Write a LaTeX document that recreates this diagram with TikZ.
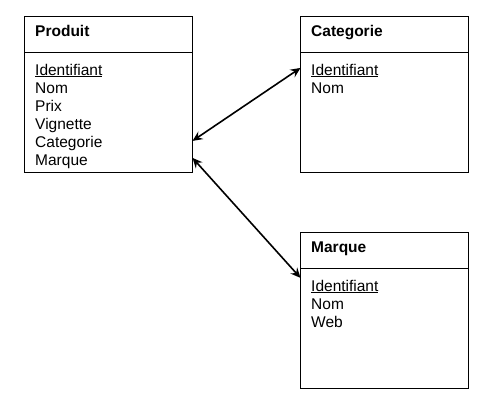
\documentclass[tikz,border=0pt]{standalone}
\usepackage{fontspec}
\setmainfont{Liberation Sans}
\usetikzlibrary{positioning,arrows.meta}

\begin{document}
\begin{tikzpicture}[x=1pt, y=1pt, node distance=60pt and 108pt, every node/.style={font=\fontsize{15.5}{18}\selectfont}]
\tikzstyle{table}=[draw, line width=0.9pt, minimum width=168pt, minimum height=156pt, inner sep=0pt, outer sep=0pt]
\tikzstyle{title}=[anchor=base west, inner sep=0pt, font=\fontsize{15.5}{18}\selectfont\bfseries]
\tikzstyle{attrs}=[anchor=north west, align=left, inner sep=0pt]
\tikzstyle{link}=[{Stealth[length=10pt,width=9pt,inset=3.5pt]}-{Stealth[length=10pt,width=9pt,inset=3.5pt]}, line width=1.6pt]
\useasboundingbox (0,0) rectangle (486,-408);
% tables
\node[table] (prod) at (108.5,-94.4) {};
\node[table, right=of prod] (cat) {};
\node[table, below=of cat] (marq) {};
% headers
\foreach \t/\n in {prod/Produit, cat/Categorie, marq/Marque} {
  \draw[line width=0.9pt] ([yshift=-36pt]\t.north west) -- ([yshift=-36pt]\t.north east);
  \node[title] (\t-title) at ([xshift=10.5pt,yshift=-20pt]\t.north west) {\n};
}
% attributes
\node[attrs] (prod-attrs) at ([xshift=10.5pt,yshift=-46.5pt]prod.north west)
  {\rule{0pt}{12pt}\underline{Identifiant}\\Nom\\Prix\\Vignette\\Categorie\\Marque};
\node[attrs] (cat-attrs) at ([xshift=10.5pt,yshift=-46.5pt]cat.north west)
  {\rule{0pt}{12pt}\underline{Identifiant}\\Nom};
\node[attrs] (marq-attrs) at ([xshift=10.5pt,yshift=-46.5pt]marq.north west)
  {\rule{0pt}{12pt}\underline{Identifiant}\\Nom\\Web};
% links
\draw[link] ([yshift=-124.5pt]prod.north east) -- ([yshift=-51.5pt]cat.north west);
\draw[link] ([yshift=-141.5pt]prod.north east) -- ([yshift=-45.5pt]marq.north west);
\end{tikzpicture}
\end{document}
